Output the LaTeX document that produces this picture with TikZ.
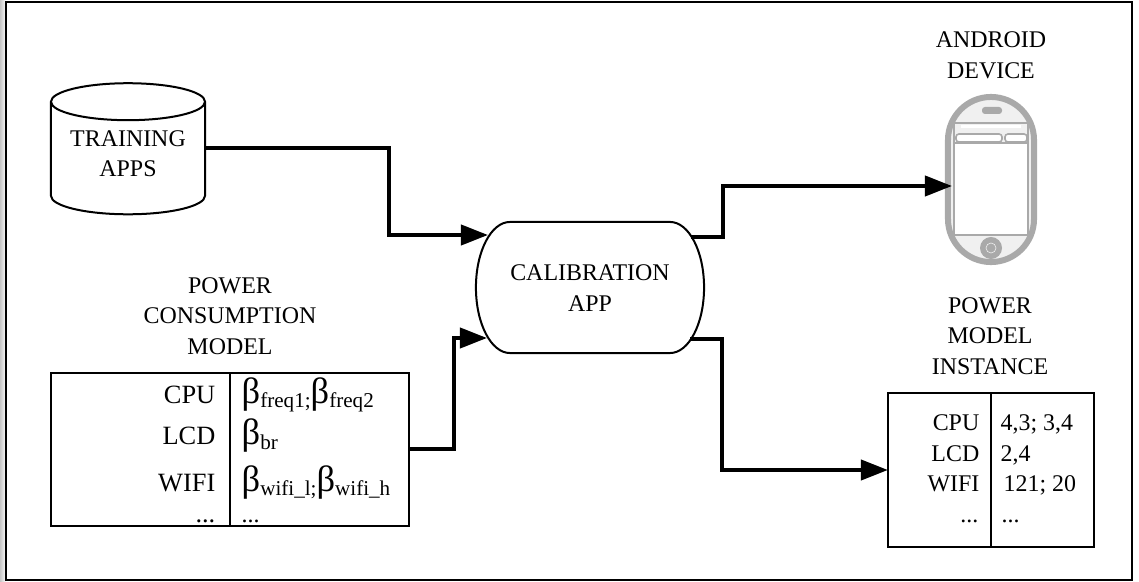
\documentclass[tikz,border=0pt]{standalone}
\usepackage{fontspec}
\setmainfont{Liberation Serif}
\usetikzlibrary{arrows.meta,shapes.geometric}
\newcommand{\labelfont}{\fontsize{6.8}{8.68}\selectfont}
\newcommand{\rowfont}{\fontsize{7.5}{9}\selectfont}
\newcommand{\powerbeta}[1]{{\fontsize{10.4}{10}\selectfont β}\raisebox{-1.4pt}{\fontsize{6}{6}\selectfont #1}}
\definecolor{phonegray}{HTML}{A9A9A9}
\definecolor{phonefill}{HTML}{F0F0F0}
\tikzset{
  boxline/.style={draw, line width=0.02cm},
  tablebox/.style={boxline, rectangle, inner sep=0pt, outer sep=0pt},
  caption/.style={align=center, font=\labelfont},
  rowleft/.style={anchor=base east, inner sep=0pt},
  rowright/.style={anchor=base west, inner sep=0pt},
  link/.style={line width=0.04cm, -{Triangle[length=0.27cm,width=0.2cm]}},
  phoneline/.style={draw=phonegray, line width=0.016cm},
  phonetab/.style={rectangle, phoneline, rounded corners=0.03cm, fill=white, minimum height=0.08cm, inner sep=0pt},
}
\begin{document}
\begin{tikzpicture}[x=0.01cm,y=-0.01cm]
\useasboundingbox (0,0) rectangle (1139,582);
% Frame
\fill[left color=gray!45, right color=white] (0,0) rectangle (6,582);
\draw[line width=0.022cm] (6,2) rectangle (1132,580);

% Training apps
\node[boxline, cylinder, shape border rotate=90, aspect=0.32, minimum width=1.54cm, minimum height=1.31cm, inner sep=0pt, outer sep=0pt, font=\labelfont] (apps) at (128,158.5) {\phantom{TRAINING}};
\node[caption] (appstext) at (128,153.5) {TRAINING\\APPS};
\coordinate (appsout) at (205,148.5);

% Calibration app
\node[minimum width=2.28cm, minimum height=1.31cm, inner sep=0pt, outer sep=0pt] (cal) at (590,287.5) {};
\draw[boxline] ([xshift=0.34cm]cal.north west) arc[start angle=90, end angle=270, x radius=0.34cm, y radius=0.655cm] -- ([xshift=-0.34cm]cal.south east) arc[start angle=270, end angle=450, x radius=0.34cm, y radius=0.655cm] -- cycle;
\node[caption] (caltext) at (590,288) {CALIBRATION\\APP};

% Android device
\node[caption] (android) at (991,55.5) {ANDROID\\DEVICE};
\node[rectangle, draw=phonegray, fill=phonefill, line width=0.06cm, rounded corners=0.43cm, minimum width=0.86cm, minimum height=1.65cm, inner sep=0pt, outer sep=0pt] (phone) at (991,179.5) {};
\node[rectangle, phoneline, fill=white, minimum width=0.74cm, minimum height=1.12cm, inner sep=0pt] (screen) at (991,179) {};
\fill[phonefill] (954,123) rectangle (1028,143);
\draw[phoneline] (954,123) -- (1028,123);
\draw[phoneline] (954,143) -- (1028,143);
\draw[phoneline] (954,123) -- (954,143);
\draw[phoneline] (1028,123) -- (1028,143);
\fill[white] (961,125) rectangle (1021,128);
\node[phonetab, minimum width=0.46cm] (tab1) at (979,138) {};
\node[phonetab, minimum width=0.22cm] (tab2) at (1016,138) {};
\node[rectangle, fill=phonegray, rounded corners=0.03cm, minimum width=0.2cm, minimum height=0.07cm, inner sep=0pt] (speaker) at (992,110.5) {};
\node[circle, fill=phonegray, minimum size=0.22cm, inner sep=0pt] (home) at (991,248) {};
\node[circle, draw=phonefill, line width=0.006cm, minimum size=0.1cm, inner sep=0pt] (homering) at (991,248) {};

% Power consumption model
\node[caption] (modeltitle) at (230,316) {POWER\\CONSUMPTION\\MODEL};
\node[tablebox, minimum width=3.58cm, minimum height=1.53cm] (model) at (230,449.5) {};
\draw[boxline] (230,373) -- (230,526);
\node[rowleft, font=\rowfont] (m1) at (216,403) {CPU};
\node[rowleft, font=\rowfont] (m2) at (216,445) {LCD};
\node[rowleft, font=\rowfont] (m3) at (216,491) {WIFI};
\node[rowleft, font=\rowfont] (m4) at (216,522) {...};
\node[rowright] (b1) at (241,403) {\powerbeta{freq1;}\powerbeta{freq2}};
\node[rowright] (b2) at (241,445) {\powerbeta{br}};
\node[rowright] (b3) at (241,491) {\powerbeta{wifi\_l;}\powerbeta{wifi\_h}};
\node[rowright, font=\labelfont] (b4) at (241,522) {...};

% Power model instance
\node[caption] (insttitle) at (990,336) {POWER\\MODEL\\INSTANCE};
\node[tablebox, minimum width=2.06cm, minimum height=1.54cm] (inst) at (991,470) {};
\draw[boxline] (991,393) -- (991,547);
\node[rowleft, font=\labelfont] (i1) at (980,430) {CPU};
\node[rowleft, font=\labelfont] (i2) at (980,461) {LCD};
\node[rowleft, font=\labelfont] (i3) at (980,491) {WIFI};
\node[rowleft, font=\labelfont] (i4) at (979,522) {...};
\node[rowright, font=\labelfont] (v1) at (1000,430) {4,3; 3,4};
\node[rowright, font=\labelfont] (v2) at (1000,461) {2,4};
\node[rowright, font=\labelfont] (v3) at (1003,491) {121; 20};
\node[rowright, font=\labelfont] (v4) at (1001,522) {...};

% Connector ends
\coordinate (calin1) at (488,235);
\coordinate (calin2) at (487,338);
\coordinate (calout1) at (691,237);
\coordinate (calout2) at (690,339);
\coordinate (phonein) at (952,186);
\coordinate (bend1) at (389,190);
\coordinate (bend2) at (454,400);
\coordinate (bend3) at (723,210);
\coordinate (bend4) at (722,400);

% Connectors
\draw[link] (appsout) -| (bend1) |- (calin1);
\draw[link] (model.east |- 0,449) -| (bend2) |- (calin2);
\draw[link] (calout1) -| (bend3) |- (phonein);
\draw[link] (calout2) -| (bend4) |- (inst.west);
\end{tikzpicture}
\end{document}
